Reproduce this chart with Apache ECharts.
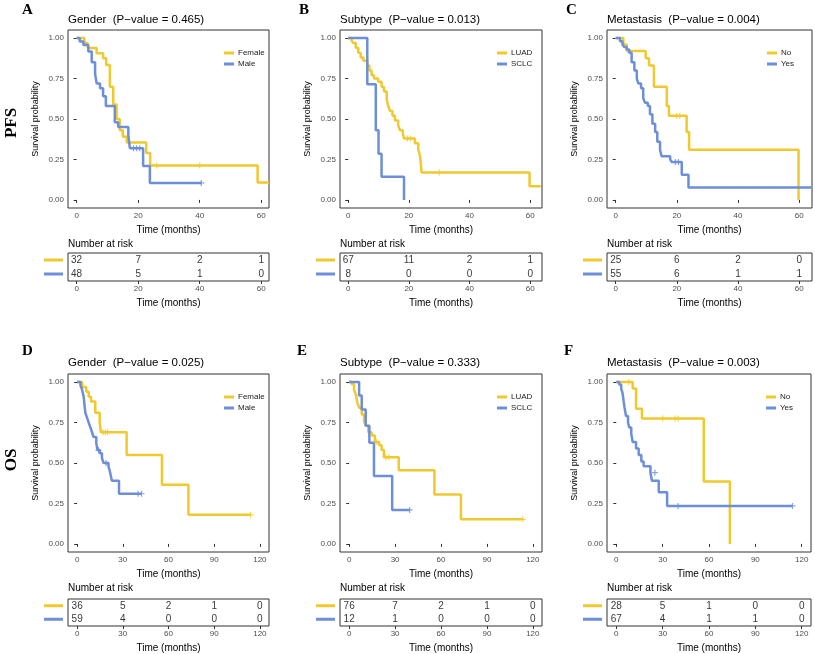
<!DOCTYPE html>
<html><head><meta charset="utf-8">
<script src="https://cdn.jsdelivr.net/npm/echarts@6/dist/echarts.min.js"></script>
<style>html,body{margin:0;padding:0;background:#fff}#c{width:815px;height:654px}</style>
</head><body><div id="c"></div>
<script>
// ---------- DATA ----------
const ticksPFS = [0, 20, 40, 60];
const ticksOS = [0, 30, 60, 90, 120];
const yTicks = [0, 0.25, 0.5, 0.75, 1];

// A: PFS by Gender
const aFemale = [[0,1],[2.5,0.969],[3.6,0.938],[6.5,0.906],[8.6,0.875],[9.6,0.833],[10.8,0.70],[11.9,0.59],[13,0.50],[14,0.43],[15,0.39],[16.3,0.355],[22.6,0.29],[23.9,0.213],[58.8,0.107],[62.5,0.107]];
const aMale = [[0,1],[1,0.979],[2.2,0.958],[3.8,0.917],[4.9,0.85],[6,0.78],[6.5,0.72],[7.6,0.69],[8.6,0.64],[9.5,0.58],[12.4,0.48],[13.5,0.45],[16.8,0.40],[17.3,0.32],[21.6,0.21],[23.8,0.105],[40.5,0.105]];
const aFemaleCens = [[26,0.213],[40,0.213]];
const aMaleCens = [[18.5,0.32],[19.5,0.32],[20.5,0.32],[40.5,0.105]];
// B: PFS by Subtype
const bLUAD = [[0,1],[1.1,0.985],[1.7,0.97],[2.5,0.94],[3.3,0.91],[4.1,0.88],[5,0.86],[6.3,0.83],[7,0.80],[7.7,0.77],[8.5,0.75],[9.9,0.73],[11,0.70],[11.8,0.67],[12.7,0.62],[13.2,0.58],[13.8,0.55],[14.6,0.52],[15.4,0.49],[16.5,0.46],[17.1,0.43],[18,0.41],[18.4,0.38],[22,0.35],[23.1,0.31],[23.7,0.27],[24.2,0.17],[59.8,0.085],[63.5,0.085]];
const bSCLC = [[0,1],[6.3,0.714],[9.1,0.43],[10,0.286],[11,0.143],[18.4,0]];
const bLUADCens = [[19.5,0.38],[20.5,0.38],[30,0.17]];
const bSCLCCens = [];
// C: PFS by Metastasis
const cNo = [[0,1],[2.5,0.96],[3.6,0.92],[9.8,0.875],[10.9,0.83],[12.5,0.70],[16.7,0.58],[17.4,0.52],[23.2,0.42],[24,0.31],[59.8,0]];
const cYes = [[0,1],[1.4,0.98],[2.2,0.96],[2.8,0.945],[3.6,0.93],[4.4,0.91],[5.2,0.85],[6.1,0.80],[6.9,0.75],[7.4,0.72],[8.3,0.69],[9,0.63],[9.6,0.60],[10.5,0.58],[11.2,0.53],[12,0.47],[12.9,0.42],[13.6,0.36],[14.5,0.31],[15,0.27],[17.8,0.25],[18.3,0.235],[21.6,0.155],[23.8,0.077],[64,0.077]];
const cNoCens = [[20,0.52],[21,0.52]];
const cYesCens = [[19.5,0.235],[20.5,0.235]];
// D: OS by Gender
const dFemale = [[0,1],[3.3,0.97],[6,0.94],[7.6,0.91],[9.1,0.88],[11.9,0.81],[14.8,0.75],[15.6,0.69],[32.5,0.55],[55.7,0.365],[73.1,0.18],[113.9,0.18]];
const dMale = [[0,1],[2.2,0.98],[3.3,0.95],[4.3,0.91],[4.8,0.86],[5.4,0.81],[6.5,0.78],[7.6,0.75],[8.7,0.72],[9.8,0.69],[10.8,0.66],[12.6,0.62],[13.4,0.58],[14.8,0.56],[16.3,0.53],[17.4,0.50],[20.6,0.48],[21.7,0.44],[22.8,0.39],[27.5,0.31],[42.3,0.31]];
const dFemaleCens = [[17,0.69],[18.5,0.69],[20,0.69],[113.9,0.18]];
const dMaleCens = [[14,0.58],[19,0.50],[40,0.31],[42.3,0.31]];
// E: OS by Subtype
const eLUAD = [[0,1],[1.7,0.987],[3.2,0.95],[4.5,0.92],[5.4,0.87],[6.7,0.84],[8.2,0.80],[9.7,0.76],[11,0.73],[12.5,0.69],[14.7,0.67],[16.8,0.63],[19.6,0.61],[21.2,0.58],[22.7,0.535],[32.4,0.455],[55.7,0.305],[73,0.152],[113.5,0.152]];
const eSCLC = [[0,1],[6.5,0.917],[8.2,0.83],[10.8,0.73],[13.2,0.625],[16.2,0.42],[28.1,0.21],[39.5,0.21]];
const eLUADCens = [[18,0.63],[24,0.535],[26,0.535],[113.5,0.152]];
const eSCLCCens = [[39.5,0.21]];
// F: OS by Metastasis
const fNo = [[0,1],[10.6,0.96],[12.8,0.835],[16.6,0.775],[56.6,0.385],[73.5,0]];
const fYes = [[0,1],[1.9,0.985],[3.2,0.96],[4.1,0.93],[4.8,0.88],[5.4,0.84],[6.3,0.79],[7.6,0.75],[8.4,0.72],[9.7,0.68],[10.6,0.63],[12.8,0.59],[14.5,0.55],[16.2,0.51],[17.7,0.48],[22.1,0.44],[23.1,0.39],[27.5,0.32],[32.9,0.235],[114,0.235]];
const fNoCens = [[8,1],[30,0.775],[38,0.775],[40,0.775]];
const fYesCens = [[25,0.44],[40,0.235],[114,0.235]];

// Number at risk
const riskA1 = [32,7,2,1], riskA2 = [48,5,1,0];
const riskB1 = [67,11,2,1], riskB2 = [8,0,0,0];
const riskC1 = [25,6,2,0], riskC2 = [55,6,1,1];
const riskD1 = [36,5,2,1,0], riskD2 = [59,4,0,0,0];
const riskE1 = [76,7,2,1,0], riskE2 = [12,1,0,0,0];
const riskF1 = [28,5,1,0,0], riskF2 = [67,4,1,1,0];

const titles = ['Gender  (P\u2212value = 0.465)','Subtype  (P\u2212value = 0.013)','Metastasis  (P\u2212value = 0.004)',
                'Gender  (P\u2212value = 0.025)','Subtype  (P\u2212value = 0.333)','Metastasis  (P\u2212value = 0.003)'];
const letters = ['A','B','C','D','E','F'];
const groupNames = [['Female','Male'],['LUAD','SCLC'],['No','Yes'],['Female','Male'],['LUAD','SCLC'],['No','Yes']];

// ---------- STYLE / LAYOUT ----------
const YEL = '#F0C92E', BLU = '#6C8FD8';
const panels = [
  {c1:aFemale,c2:aMale,k1:aFemaleCens,k2:aMaleCens,r1:riskA1,r2:riskA2,ticks:ticksPFS,left:68,width:201,xmin:-2.8,xmax:62.5,row:0},
  {c1:bLUAD,c2:bSCLC,k1:bLUADCens,k2:bSCLCCens,r1:riskB1,r2:riskB2,ticks:ticksPFS,left:340,width:202,xmin:-2.7,xmax:63.9,row:0},
  {c1:cNo,c2:cYes,k1:cNoCens,k2:cYesCens,r1:riskC1,r2:riskC2,ticks:ticksPFS,left:607,width:205,xmin:-2.85,xmax:64.2,row:0},
  {c1:dFemale,c2:dMale,k1:dFemaleCens,k2:dMaleCens,r1:riskD1,r2:riskD2,ticks:ticksOS,left:68,width:201,xmin:-6,xmax:126,row:1},
  {c1:eLUAD,c2:eSCLC,k1:eLUADCens,k2:eSCLCCens,r1:riskE1,r2:riskE2,ticks:ticksOS,left:340,width:202,xmin:-6,xmax:126,row:1},
  {c1:fNo,c2:fYes,k1:fNoCens,k2:fYesCens,r1:riskF1,r2:riskF2,ticks:ticksOS,left:607,width:204,xmin:-6,xmax:126,row:1}
];
const rowGeom = [
  {plotTop:30, plotH:178, titleTop:14, letterTop:3, legendTop:44, narTop:239, riskTop:253, riskH:28},
  {plotTop:374, plotH:178, titleTop:357, letterTop:344, legendTop:388, narTop:583, riskTop:599, riskH:27}
];
const letterLeft = [22, 299, 566, 22, 297, 564];
const FONT = 'Liberation Sans, Arial, sans-serif';
const plus = 'path://M4,0H6V4H10V6H6V10H4V6H0V4H4Z';

const option = {animation:false, backgroundColor:'#fff', grid:[], xAxis:[], yAxis:[], series:[], title:[], legend:[], graphic:[]};

panels.forEach((p, i) => {
  const g = rowGeom[p.row];
  const names = groupNames[i];
  const gi = option.grid.length;
  // KM plot grid
  option.grid.push({left:p.left, top:g.plotTop, width:p.width, height:g.plotH, show:true, borderColor:'#333', borderWidth:1, backgroundColor:'#fff'});
  option.xAxis.push({type:'value', gridIndex:gi, min:p.xmin, max:p.xmax,
    axisLine:{show:false}, splitLine:{show:false},
    axisTick:{show:true, customValues:p.ticks, length:3, lineStyle:{color:'#333'}},
    axisLabel:{customValues:p.ticks, fontSize:8, color:'#4d4d4d', margin:4, fontFamily:FONT},
    name:'Time (months)', nameLocation:'middle', nameGap:17, nameTextStyle:{fontSize:10, color:'#000', fontFamily:FONT}});
  option.yAxis.push({type:'value', gridIndex:gi, min:-0.05, max:1.05,
    axisLine:{show:false}, splitLine:{show:false},
    axisTick:{show:true, customValues:yTicks, length:3, lineStyle:{color:'#333'}},
    axisLabel:{customValues:yTicks, fontSize:8, color:'#4d4d4d', margin:4, fontFamily:FONT, formatter:v=>v.toFixed(2)},
    name:'Survival probability', nameLocation:'middle', nameGap:28, nameTextStyle:{fontSize:9, color:'#000', fontFamily:FONT}});
  [[p.c1,p.k1,YEL,names[0]],[p.c2,p.k2,BLU,names[1]]].forEach(([curve,cens,col,nm]) => {
    option.series.push({type:'line', name:nm, xAxisIndex:gi, yAxisIndex:gi, data:curve, step:'end',
      showSymbol:false, symbol:'none', lineStyle:{color:col, width:2.5}, itemStyle:{color:col}, z:3});
    option.series.push({type:'scatter', name:nm+' censor', xAxisIndex:gi, yAxisIndex:gi, data:cens,
      symbol:plus, symbolSize:6, itemStyle:{color:col}, z:4});
  });
  // legend
  option.legend.push({data:names, left:p.left+p.width-50, top:g.legendTop, orient:'vertical', icon:'rect',
    itemWidth:10, itemHeight:3, itemGap:3, selectedMode:false, textStyle:{fontSize:8, color:'#222', fontFamily:FONT, padding:[0,0,0,-1]}});
  // title, letter
  option.title.push({text:titles[i], left:p.left, top:g.titleTop, padding:0, textStyle:{fontSize:11.5, fontWeight:'normal', color:'#000', fontFamily:FONT}});
  option.title.push({text:letters[i], left:letterLeft[i], top:g.letterTop, padding:0, textStyle:{fontSize:15, fontWeight:'bold', color:'#000', fontFamily:'Liberation Serif, Times New Roman, serif'}});
  option.title.push({text:'Number at risk', left:p.left, top:g.narTop, padding:0, textStyle:{fontSize:10, fontWeight:'normal', color:'#000', fontFamily:FONT}});

  // risk table grid
  const ri = option.grid.length;
  option.grid.push({left:p.left, top:g.riskTop, width:p.width, height:g.riskH, show:true, borderColor:'#333', borderWidth:1});
  option.xAxis.push({type:'value', gridIndex:ri, min:p.xmin, max:p.xmax,
    axisLine:{show:false}, splitLine:{show:false},
    axisTick:{show:true, customValues:p.ticks, length:3, lineStyle:{color:'#333'}},
    axisLabel:{customValues:p.ticks, fontSize:8, color:'#4d4d4d', margin:4, fontFamily:FONT},
    name:'Time (months)', nameLocation:'middle', nameGap:17, nameTextStyle:{fontSize:10, color:'#000', fontFamily:FONT}});
  option.yAxis.push({type:'category', gridIndex:ri, data:['g2','g1'],
    axisLine:{show:false}, axisTick:{show:false}, splitLine:{show:false},
    axisLabel:{interval:0, hideOverlap:false, margin:5, formatter:v => v==='g1' ? '{y|}' : '{b|}',
      rich:{y:{backgroundColor:YEL, width:19, height:3}, b:{backgroundColor:BLU, width:19, height:3}}}});
  const rdata = [];
  p.ticks.forEach((t, j) => { rdata.push([t, 'g1', p.r1[j]]); rdata.push([t, 'g2', p.r2[j]]); });
  option.series.push({type:'scatter', name:'risk'+i, xAxisIndex:ri, yAxisIndex:ri, data:rdata, symbolSize:0,
    label:{show:true, position:'inside', formatter:d=>String(d.value[2]), fontSize:10, color:'#000', fontFamily:FONT}});
});

option.graphic.push({type:'text', x:12, y:123, rotation:Math.PI/2,
  style:{text:'PFS', font:'bold 17px "Liberation Serif", serif', fill:'#000', textAlign:'center', textVerticalAlign:'middle', align:'center', verticalAlign:'middle'}});
option.graphic.push({type:'text', x:12, y:460, rotation:Math.PI/2,
  style:{text:'OS', font:'bold 17px "Liberation Serif", serif', fill:'#000', textAlign:'center', textVerticalAlign:'middle', align:'center', verticalAlign:'middle'}});

const chart = echarts.init(document.getElementById('c'), null, {renderer:'canvas'});
chart.setOption(option);
</script>
</body></html>
